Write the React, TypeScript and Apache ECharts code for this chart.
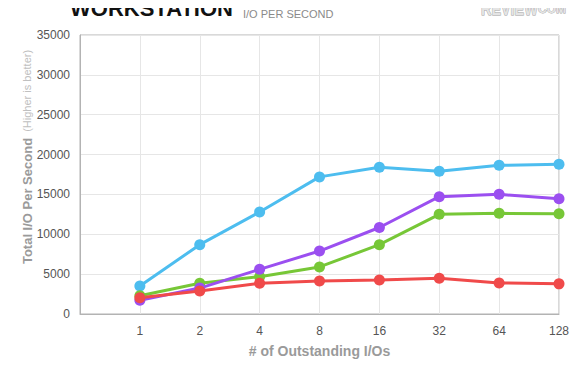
import React, { useEffect, useRef } from "react";
import * as echarts from "echarts";

const categories = ["", "1", "2", "4", "8", "16", "32", "64", "128"];
const corsair = [null, 3500, 8700, 12800, 17200, 18400, 17900, 18650, 18780];
const crucial = [null, 2300, 3850, 4680, 5900, 8700, 12500, 12630, 12570];
const drive3 = [null, 1720, 3250, 5600, 7900, 10850, 14720, 15010, 14450];
const drive4 = [null, 2050, 2885, 3850, 4140, 4265, 4475, 3900, 3780];
const legendNames = ["Corsair F100 100GB SSD", "Crucial RealSSD C300 256GB SSD"];
const colors = ["#4dbdef", "#77c737", "#9b4ff0", "#f04a4a"];
const yTicks = { min: 0, max: 35000, interval: 5000 };

const FONT = "'Liberation Sans', Arial, Helvetica, sans-serif";

export default function App() {
  const ref = useRef<HTMLDivElement>(null);
  useEffect(() => {
    if (!ref.current) return;
    const chart = echarts.init(ref.current, undefined, { renderer: "svg" });
    const mk = (name: string, data: any[], color: string) => ({
      name,
      type: "line",
      data,
      symbol: "circle",
      symbolSize: 11,
      showSymbol: true,
      lineStyle: { width: 3, color },
      itemStyle: { color },
      emphasis: { disabled: true },
    });
    const legendItem = (name: string, color: string, x: number) => [
      {
        type: "circle",
        shape: { cx: x, cy: 391, r: 5.5 },
        style: { fill: color },
      },
      {
        type: "text",
        x: x + 15,
        y: 391,
        style: {
          text: name,
          font: `13px ${FONT}`,
          fill: "#444",
          verticalAlign: "middle",
        },
      },
    ];
    chart.setOption({
      animation: false,
      textStyle: { fontFamily: FONT },
      grid: {
        left: 80,
        right: 21,
        top: 35,
        bottom: 76,
        show: true,
        borderColor: "#b3b3b3",
        borderWidth: 1,
      },
      xAxis: {
        type: "category",
        data: categories,
        boundaryGap: false,
        axisLine: { lineStyle: { color: "#b3b3b3" } },
        axisTick: { show: false },
        axisLabel: { color: "#555", fontSize: 12, margin: 11, fontFamily: FONT },
        splitLine: { show: true, lineStyle: { color: "#e6e6e6" } },
        name: "# of Outstanding I/Os",
        nameLocation: "middle",
        nameGap: 30,
        nameTextStyle: { color: "#9a9a9a", fontSize: 14, fontWeight: "bold", fontFamily: FONT },
      },
      yAxis: {
        type: "value",
        min: yTicks.min,
        max: yTicks.max,
        interval: yTicks.interval,
        axisLine: { show: true, lineStyle: { color: "#b3b3b3" } },
        axisTick: { show: false },
        axisLabel: {
          color: "#555",
          fontSize: 12,
          margin: 10,
          fontFamily: FONT,
          formatter: (v: number) => String(v),
        },
        splitLine: { show: true, lineStyle: { color: "#e6e6e6" } },
      },
      graphic: [
        ...legendItem(legendNames[0], colors[0], 82),
        ...legendItem(legendNames[1], colors[1], 337),
        {
          type: "text",
          x: 70,
          y: 19,
          style: {
            text: "WORKSTATION",
            font: `bold 22px ${FONT}`,
            fill: "#111",
            verticalAlign: "bottom",
          },
        },
        {
          type: "text",
          x: 243,
          y: 19,
          style: {
            text: "I/O PER SECOND",
            font: `11px ${FONT}`,
            fill: "#8a8a8a",
            verticalAlign: "bottom",
          },
        },
        {
          type: "text",
          x: 481,
          y: -1,
          scaleX: 0.8,
          style: {
            text: "REVIEW",
            font: `bold 18px ${FONT}`,
            fill: "#e4e4e4",
            stroke: "#a0a0a0",
            lineWidth: 1,
            verticalAlign: "top",
          },
        },
        {
          type: "text",
          x: 538,
          y: 3,
          style: {
            text: "COM",
            font: `bold 12px ${FONT}`,
            fill: "#e4e4e4",
            stroke: "#a0a0a0",
            lineWidth: 0.8,
            verticalAlign: "top",
          },
        },
        {
          type: "text",
          x: 27,
          y: 157,
          rotation: Math.PI / 2,
          style: {
            text: "{a|Total I/O Per Second}{b|  (Higher is better)}",
            align: "center",
            verticalAlign: "middle",
            rich: {
              a: { fontSize: 13, fontWeight: "bold", fill: "#9a9a9a", fontFamily: FONT },
              b: { fontSize: 11, fill: "#c0c0c0", fontFamily: FONT },
            },
          },
        },
      ],
      series: [
        mk(legendNames[0], corsair, colors[0]),
        mk(legendNames[1], crucial, colors[1]),
        mk("Drive C", drive3, colors[2]),
        mk("Drive D", drive4, colors[3]),
      ],
    });
    return () => chart.dispose();
  }, []);
  return <div ref={ref} style={{ width: 580, height: 390, margin: -8 }} />;
}
